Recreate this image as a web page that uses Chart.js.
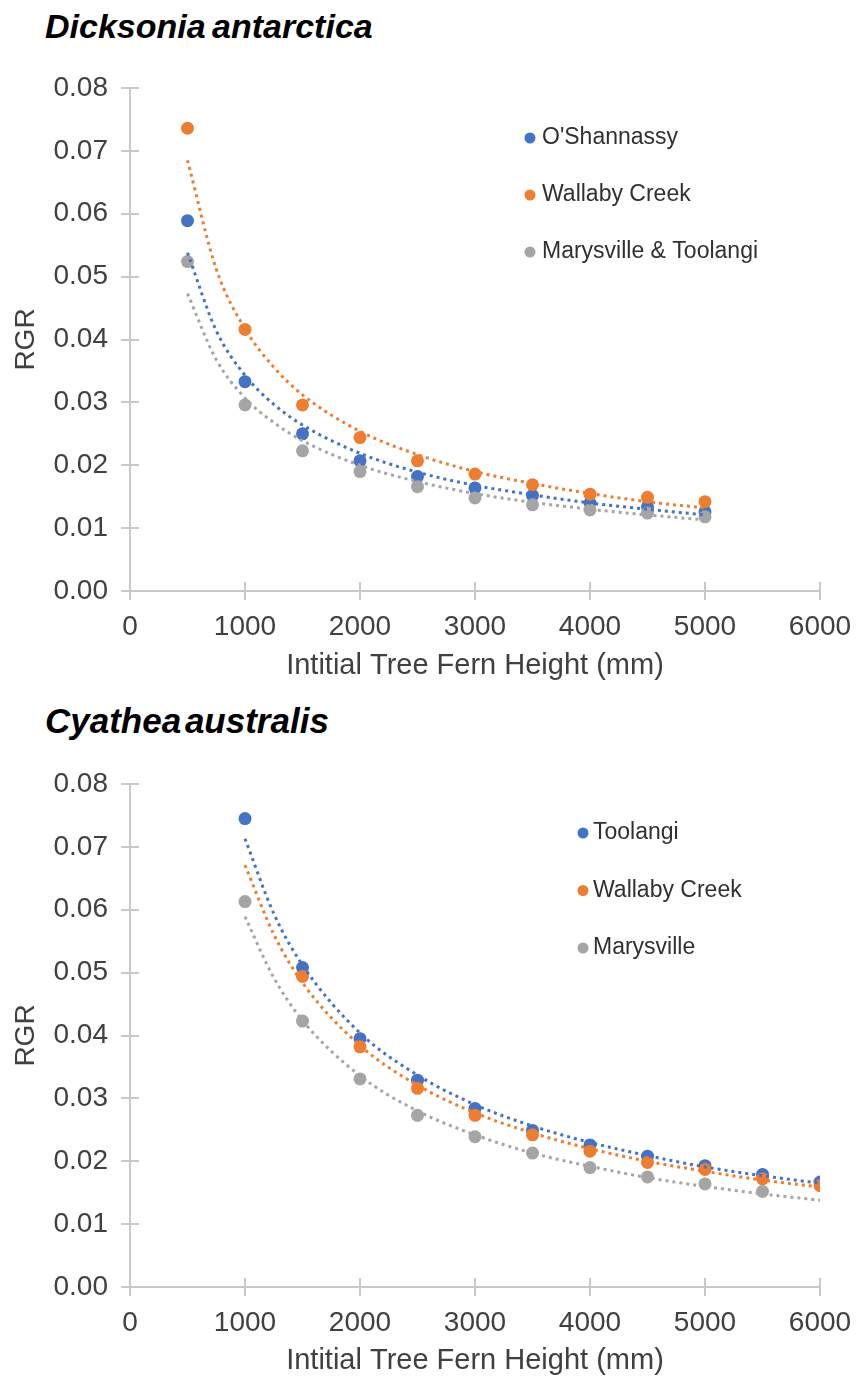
<!DOCTYPE html>
<html><head><meta charset="utf-8">
<script src="https://cdn.jsdelivr.net/npm/chart.js@4.4.1/dist/chart.umd.min.js"></script>
<style>
html,body{margin:0;padding:0;background:#fff;}
body{width:857px;height:1378px;position:relative;overflow:hidden;font-family:'Liberation Sans',Arial,sans-serif;}
.title{position:absolute;left:45px;font-weight:bold;font-style:italic;font-size:34px;line-height:34px;color:#000;white-space:nowrap;word-spacing:-3px;}
.box{position:absolute;left:0;width:857px;}
canvas{display:block;}
</style></head><body>
<div class="title" style="top:9px">Dicksonia antarctica</div>
<div class="title" style="top:704px;font-size:35px;word-spacing:-6px">Cyathea australis</div>
<div class="box" style="top:0;height:690px"><canvas id="c1" width="857" height="690"></canvas></div>
<div class="box" style="top:690px;height:688px"><canvas id="c2" width="857" height="688"></canvas></div>
<script>
// ---------- Data: Dicksonia antarctica ----------
const dickHeights = [500, 1000, 1500, 2000, 2500, 3000, 3500, 4000, 4500, 5000];
const dickOShannassy = [0.0589, 0.0333, 0.0250, 0.0207, 0.0182, 0.0164, 0.0152, 0.0140, 0.0134, 0.0126];
const dickWallaby    = [0.0736, 0.0416, 0.0296, 0.0244, 0.0207, 0.0186, 0.0169, 0.0154, 0.0149, 0.0142];
const dickMarysville = [0.0524, 0.0296, 0.0223, 0.0190, 0.0166, 0.0148, 0.0137, 0.0129, 0.0124, 0.0118];
// trendlines
const dickTrendX          = [500, 750, 1000, 1250, 1500, 2000, 2500, 3000, 3500, 4000, 4500, 5000];
const dickTrendOShannassy = [0.0538, 0.0414, 0.0343, 0.0297, 0.0264, 0.0219, 0.0189, 0.0168, 0.0153, 0.0140, 0.0130, 0.0121];
const dickTrendWallaby    = [0.0685, 0.0512, 0.0417, 0.0356, 0.0312, 0.0254, 0.0217, 0.0190, 0.0171, 0.0155, 0.0142, 0.0132];
const dickTrendMarysville = [0.0473, 0.0368, 0.0307, 0.0268, 0.0239, 0.0200, 0.0174, 0.0155, 0.0141, 0.0130, 0.0121, 0.0113];
const dickLabels = ["O'Shannassy", "Wallaby Creek", "Marysville & Toolangi"];

// ---------- Data: Cyathea australis ----------
const cyaHeights = [1000, 1500, 2000, 2500, 3000, 3500, 4000, 4500, 5000, 5500, 6000];
const cyaToolangi   = [0.0745, 0.0508, 0.0395, 0.0329, 0.0284, 0.0249, 0.0226, 0.0208, 0.0193, 0.0179, 0.0167];
const cyaWallaby    = [null,   0.0494, 0.0382, 0.0316, 0.0273, 0.0242, 0.0216, 0.0198, 0.0187, 0.0172, 0.0161];
const cyaMarysville = [0.0613, 0.0423, 0.0331, 0.0273, 0.0239, 0.0213, 0.0190, 0.0175, 0.0164, 0.0152, null];
const cyaTrendX          = [1000, 1250, 1500, 2000, 2500, 3000, 3500, 4000, 4500, 5000, 5500, 6000];
const cyaTrendToolangi   = [0.0713, 0.0594, 0.0512, 0.0404, 0.0337, 0.0290, 0.0256, 0.0230, 0.0209, 0.0191, 0.0177, 0.0165];
const cyaTrendWallaby    = [0.0671, 0.0561, 0.0484, 0.0384, 0.0321, 0.0277, 0.0245, 0.0220, 0.0200, 0.0184, 0.0170, 0.0159];
const cyaTrendMarysville = [0.0589, 0.0492, 0.0424, 0.0336, 0.0280, 0.0242, 0.0213, 0.0192, 0.0174, 0.0160, 0.0148, 0.0138];
const cyaLabels = ["Toolangi", "Wallaby Creek", "Marysville"];

const xTicks = [0, 1000, 2000, 3000, 4000, 5000, 6000];
const yTicks = [0, 0.01, 0.02, 0.03, 0.04, 0.05, 0.06, 0.07, 0.08];

const COLORS = ['#4472C4', '#ED7D31', '#A5A5A5'];
const FONT = "'Liberation Sans', Arial, sans-serif";

function pts(xs, ys) {
  return xs.map((x, i) => ({x: x, y: ys[i]})).filter(p => p.y !== null);
}

const insideLegend = {
  id: 'insideLegend',
  afterDatasetsDraw(chart, args, o) {
    const ctx = chart.ctx;
    ctx.save();
    ctx.font = o.font;
    ctx.textBaseline = 'middle';
    ctx.textAlign = 'left';
    o.items.forEach((idx, i) => {
      const ds = chart.data.datasets[idx];
      const y = o.y + i * o.gap;
      ctx.fillStyle = ds.backgroundColor;
      ctx.beginPath(); ctx.arc(o.x, y, o.r, 0, Math.PI * 2); ctx.fill();
      ctx.fillStyle = o.color;
      ctx.fillText(ds.label, o.x + o.textGap, y);
    });
    ctx.restore();
  }
};

const crossTicks = {
  id: 'crossTicks',
  beforeDatasetsDraw(chart, args, o) {
    const {ctx, chartArea} = chart;
    const xs = chart.scales.x, ys = chart.scales.y;
    ctx.save();
    ctx.strokeStyle = o.color; ctx.lineWidth = o.width;
    ys.ticks.forEach(t => {
      const py = Math.round(ys.getPixelForValue(t.value));
      ctx.beginPath(); ctx.moveTo(chartArea.left, py); ctx.lineTo(chartArea.left + o.len, py); ctx.stroke();
    });
    xs.ticks.forEach(t => {
      const px = Math.round(xs.getPixelForValue(t.value));
      ctx.beginPath(); ctx.moveTo(px, chartArea.bottom); ctx.lineTo(px, chartArea.bottom - o.len); ctx.stroke();
    });
    ctx.restore();
  }
};

function makeChart(id, heights, series, trendX, trends, labels, cfg) {
  const datasets = [];
  series.forEach((s, i) => {
    datasets.push({
      label: labels[i], data: pts(heights, s),
      backgroundColor: COLORS[i], borderColor: COLORS[i],
      pointRadius: 6.5, pointBorderWidth: 0, showLine: false, order: 10 - i
    });
  });
  trends.forEach((s, i) => {
    datasets.push({
      label: labels[i] + ' trend', data: pts(trendX, s),
      borderColor: COLORS[i], backgroundColor: COLORS[i],
      showLine: true, pointRadius: 0, borderWidth: 3, borderDash: [3, 4],
      cubicInterpolationMode: 'monotone', fill: false, order: 5 - i
    });
  });
  return new Chart(document.getElementById(id), {
    type: 'scatter',
    data: {datasets},
    plugins: [insideLegend, crossTicks],
    options: {
      responsive: false, animation: false, devicePixelRatio: 1, events: [],
      layout: {padding: {top: cfg.top, bottom: 0, left: 0, right: 37}},
      plugins: {
        legend: {display: false}, tooltip: {enabled: false}, title: {display: false},
        insideLegend: {items: [0, 1, 2], x: cfg.legX, y: cfg.legY, gap: cfg.legGap, r: 5.5,
          textGap: cfg.textGap, font: '23px ' + FONT, color: '#303030'},
        crossTicks: {color: '#c8c8c8', width: 2, len: 9}
      },
      scales: {
        x: {
          type: 'linear', min: 0, max: 6000,
          afterBuildTicks: s => { s.ticks = xTicks.map(v => ({value: v})); },
          afterFit: s => { s.height = cfg.xh; s.paddingRight = 0; s.paddingLeft = 0; },
          ticks: {font: {family: FONT, size: 28}, color: '#404040', padding: 10, maxRotation: 0,
            callback: v => String(v)},
          grid: {display: true, drawOnChartArea: false, tickLength: 9, color: '#c8c8c8', lineWidth: 2},
          border: {display: true, color: '#c8c8c8', width: 2},
          title: {display: true, text: 'Intitial Tree Fern Height (mm)', color: '#404040',
            font: {family: FONT, size: 29}, padding: {top: 0, bottom: cfg.xtp}}
        },
        y: {
          type: 'linear', min: 0, max: 0.08,
          afterBuildTicks: s => { s.ticks = yTicks.map(v => ({value: v})); },
          afterFit: s => { s.width = 130; s.paddingTop = 0; s.paddingBottom = 0; },
          ticks: {font: {family: FONT, size: 28}, color: '#404040', padding: 13,
            callback: v => Number(v).toFixed(2)},
          grid: {display: true, drawOnChartArea: false, tickLength: 9, color: '#c8c8c8', lineWidth: 2},
          border: {display: true, color: '#c8c8c8', width: 2},
          title: {display: true, text: 'RGR', color: '#404040',
            font: {family: FONT, size: 28}, padding: {top: 9, bottom: 0}}
        }
      }
    }
  });
}

makeChart('c1', dickHeights, [dickOShannassy, dickWallaby, dickMarysville], dickTrendX,
  [dickTrendOShannassy, dickTrendWallaby, dickTrendMarysville], dickLabels,
  {top: 88, xh: 99, xtp: 7, legX: 530, legY: 138, legGap: 57, textGap: 12});
makeChart('c2', cyaHeights, [cyaToolangi, cyaWallaby, cyaMarysville], cyaTrendX,
  [cyaTrendToolangi, cyaTrendWallaby, cyaTrendMarysville], cyaLabels,
  {top: 94, xh: 91, xtp: 0, legX: 583, legY: 143, legGap: 57.5, textGap: 10});
</script>
</body></html>
